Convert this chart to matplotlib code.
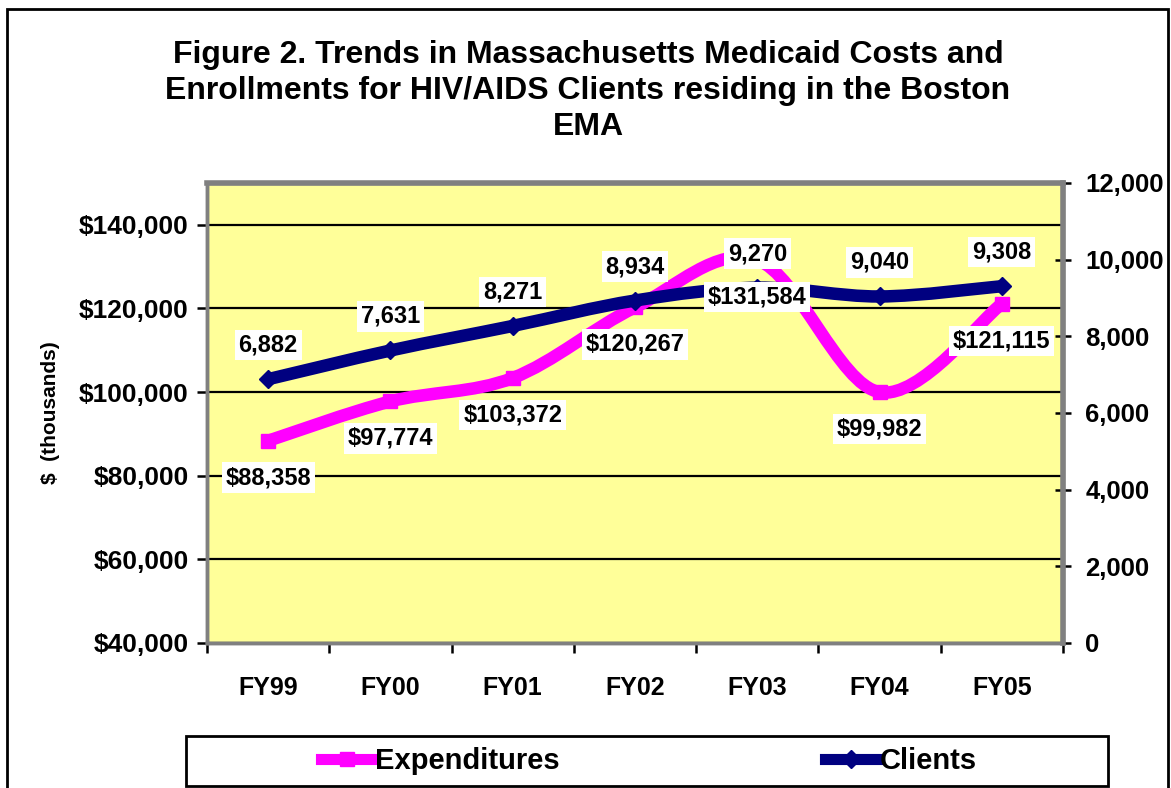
import numpy as np
import matplotlib
matplotlib.use("Agg")
import matplotlib.pyplot as plt
from matplotlib.path import Path
from matplotlib.patches import PathPatch, Rectangle
from matplotlib.lines import Line2D
from matplotlib.ticker import FuncFormatter

plt.rcParams['font.family'] = ['Liberation Sans', 'DejaVu Sans']
plt.rcParams['font.weight'] = 'bold'
plt.rcParams['axes.labelweight'] = 'bold'

# data
years = ['FY99', 'FY00', 'FY01', 'FY02', 'FY03', 'FY04', 'FY05']
expenditures = [88358, 97774, 103372, 120267, 131584, 99982, 121115]   # $ thousands
clients = [6882, 7631, 8271, 8934, 9270, 9040, 9308]

x = np.arange(len(years)) + 0.5


def smooth_path(xs, ys):
    # excel style smoothed line: catmull-rom through the points as cubic beziers
    pts = np.column_stack([xs, ys]).astype(float)
    verts = [pts[0]]
    codes = [Path.MOVETO]
    n = len(pts)
    for i in range(n - 1):
        p0 = pts[i - 1] if i > 0 else pts[i]
        p1 = pts[i]
        p2 = pts[i + 1]
        p3 = pts[i + 2] if i + 2 < n else pts[i + 1]
        verts += [p1 + (p2 - p0) / 6, p2 - (p3 - p1) / 6, p2]
        codes += [Path.CURVE4] * 3
    return Path(verts, codes)


fig = plt.figure(figsize=(11.71, 7.88), dpi=100)
ax = fig.add_axes([207 / 1171, 1 - 643 / 788, 856 / 1171, 460 / 788])
ax2 = ax.twinx()

ax.set_facecolor('#FFFF99')
ax.set_xlim(0, len(years))
ax.set_ylim(40000, 150000)
ax2.set_ylim(0, 12000)

ax.set_yticks(range(40000, 140001, 20000))
ax.yaxis.set_major_formatter(FuncFormatter(lambda v, p: '${:,.0f}'.format(v)))
ax2.set_yticks(range(0, 12001, 2000))
ax2.yaxis.set_major_formatter(FuncFormatter(lambda v, p: '{:,.0f}'.format(v)))
ax.grid(axis='y', color='black', lw=1.6)
ax.set_axisbelow(True)

ax.set_xticks(range(len(years) + 1))
ax.set_xticklabels([])
ax.set_xticks(x, minor=True)
ax.set_xticklabels(years, minor=True)
ax.tick_params(axis='x', which='major', length=7, width=1.8, direction='out', color='black')
ax.tick_params(axis='x', which='minor', length=0, labelsize=18, pad=24)
ax.tick_params(axis='y', length=7, width=1.8, labelsize=19, pad=6)
ax2.tick_params(axis='y', length=12, width=1.8, direction='inout', labelsize=18.5, pad=10)

for a in (ax, ax2):
    for s in a.spines.values():
        s.set_color('#808080')
        s.set_linewidth(2.5)
ax2.spines['top'].set_linewidth(4)
ax2.spines['right'].set_linewidth(4)

ax.set_ylabel('$  (thousands)', fontsize=15, fontweight='bold', labelpad=14)

exp_col = '#FF00FF'
cli_col = '#000080'

ax.add_patch(PathPatch(smooth_path(x, expenditures), fill=False, edgecolor=exp_col,
                       lw=9, capstyle='butt', zorder=3))
ax.plot(x, expenditures, ls='none', marker='s', ms=10, color=exp_col, zorder=4)
ax2.add_patch(PathPatch(smooth_path(x, clients), fill=False, edgecolor=cli_col,
                        lw=9, capstyle='butt', zorder=3))
ax2.plot(x, clients, ls='none', marker='D', ms=9, color=cli_col, zorder=4)

box = dict(boxstyle='square,pad=0.16', fc='white', ec='none')
for xi, v in zip(x, expenditures):
    ax2.annotate('${:,}'.format(v), xy=(xi, v), xycoords=ax.transData,
                 xytext=(0, -37), textcoords='offset pixels', ha='center', va='center',
                 fontsize=17, bbox=box, zorder=10)
for xi, v in zip(x, clients):
    ax2.annotate('{:,}'.format(v), xy=(xi, v), xycoords='data',
                 xytext=(0, 34), textcoords='offset pixels', ha='center', va='center',
                 fontsize=17, bbox=box, zorder=10)

fig.text(588 / 1171, 1 - 91 / 788,
         'Figure 2. Trends in Massachusetts Medicaid Costs and\n'
         'Enrollments for HIV/AIDS Clients residing in the Boston\nEMA',
         ha='center', va='center', fontsize=23, linespacing=1.25)

# outer chart border and legend box
fig.add_artist(Rectangle((7 / 1171, -0.05), 1161 / 1171, 1.05 - 9 / 788, transform=fig.transFigure,
                         fill=False, ec='black', lw=2))
fig.add_artist(Rectangle((186 / 1171, 2 / 788), 922 / 1171, 50 / 788,
                         transform=fig.transFigure, fill=False, ec='black', lw=2))

handles = [Line2D([], [], color=exp_col, lw=8, marker='s', ms=10),
           Line2D([], [], color=cli_col, lw=8, marker='D', ms=9)]
fig.legend(handles, ['Expenditures', 'Clients'], loc='center',
           bbox_to_anchor=(649 / 1171, 1 - 761 / 788), ncol=2, frameon=False,
           fontsize=21, handlelength=1.75, handletextpad=0.1, columnspacing=9.1)

fig.savefig('out.png', dpi=100)
